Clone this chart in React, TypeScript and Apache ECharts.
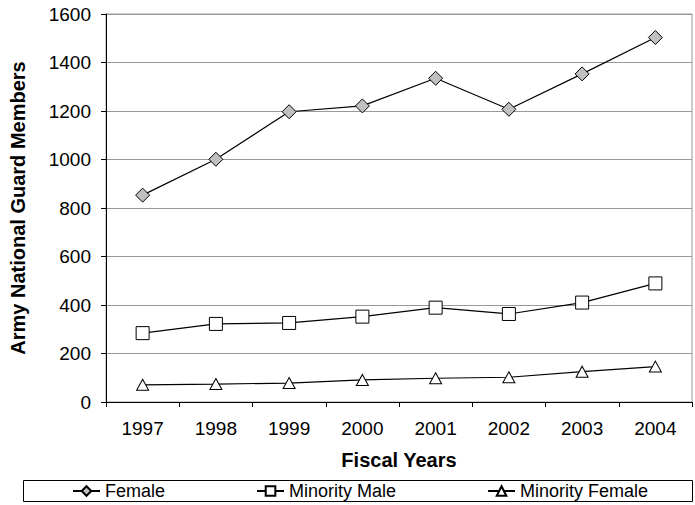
import React, { useEffect, useRef } from "react";
import * as echarts from "echarts";

const years = ["1997", "1998", "1999", "2000", "2001", "2002", "2003", "2004"];
const female = [853, 1001, 1197, 1221, 1335, 1207, 1353, 1503];
const minorityMale = [284, 322, 326, 352, 389, 363, 410, 489];
const minorityFemale = [71, 74, 78, 91, 98, 102, 125, 146];

const FONT = "'Liberation Sans', Arial, sans-serif";

export default function App() {
  const ref = useRef<HTMLDivElement>(null);
  useEffect(() => {
    if (!ref.current) return;
    const chart = echarts.init(ref.current, undefined, { renderer: "svg" });
    const lineStyle = { color: "#000", width: 1.2 };
    chart.setOption({
      animation: false,
      backgroundColor: "#fff",
      textStyle: { fontFamily: FONT, color: "#000" },
      grid: {
        left: 96,
        right: 3,
        top: 14,
        bottom: 103,
        show: true,
        borderColor: "#999",
        borderWidth: 1,
        backgroundColor: "transparent",
      },
      graphic: [
        {
          type: "rect",
          shape: { x: 23.5, y: 480.5, width: 669, height: 21 },
          style: { fill: "none", stroke: "#000", lineWidth: 1 },
          silent: true,
          z: 0,
        },
      ],
      legend: {
        left: 72,
        top: 482,
        width: 620,
        padding: 0,
        itemGap: 91,
        itemWidth: 27,
        itemHeight: 12,
        textStyle: { fontFamily: FONT, fontSize: 18, color: "#000" },
        data: ["Female", "Minority Male", "Minority Female"],
      },
      xAxis: {
        type: "category",
        data: years,
        boundaryGap: true,
        name: "Fiscal Years",
        nameLocation: "middle",
        nameGap: 48,
        nameTextStyle: { fontFamily: FONT, fontSize: 20, fontWeight: "bold", color: "#000" },
        axisLine: { show: true, lineStyle: { color: "#000", width: 1 } },
        axisTick: { show: true, alignWithLabel: false, length: 5, lineStyle: { color: "#000" } },
        axisLabel: { fontFamily: FONT, fontSize: 19, color: "#000", margin: 17, interval: 0 },
        splitLine: { show: false },
      },
      yAxis: {
        type: "value",
        min: 0,
        max: 1600,
        interval: 200,
        name: "Army National Guard Members",
        nameLocation: "middle",
        nameGap: 78,
        nameTextStyle: { fontFamily: FONT, fontSize: 20, fontWeight: "bold", color: "#000" },
        axisLine: { show: true, lineStyle: { color: "#000", width: 1 } },
        axisTick: { show: true, length: 5, lineStyle: { color: "#000" } },
        axisLabel: {
          fontFamily: FONT,
          fontSize: 19,
          color: "#000",
          margin: 15,
          formatter: (v: number) => String(v),
        },
        splitLine: { show: true, lineStyle: { color: "#999", width: 1 } },
      },
      series: [
        {
          name: "Female",
          type: "line",
          data: female,
          symbol: "diamond",
          symbolSize: [14, 14],
          showAllSymbol: true,
          lineStyle,
          itemStyle: { color: "#c0c0c0", borderColor: "#000", borderWidth: 1 },
        },
        {
          name: "Minority Male",
          type: "line",
          data: minorityMale,
          symbol: "rect",
          symbolSize: [13, 13],
          showAllSymbol: true,
          lineStyle,
          itemStyle: { color: "#fff", borderColor: "#000", borderWidth: 1 },
        },
        {
          name: "Minority Female",
          type: "line",
          data: minorityFemale,
          symbol: "triangle",
          symbolSize: [12, 11],
          showAllSymbol: true,
          lineStyle,
          itemStyle: { color: "#fff", borderColor: "#000", borderWidth: 1 },
        },
      ],
    });
    return () => chart.dispose();
  }, []);
  return <div ref={ref} style={{ width: 695, height: 505, position: "absolute", left: 0, top: 0 }} />;
}
